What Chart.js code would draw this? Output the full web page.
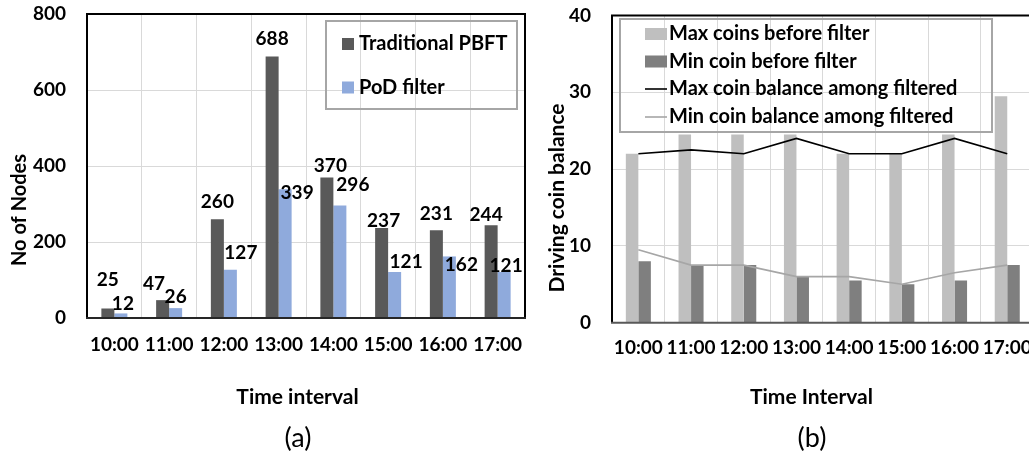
<!DOCTYPE html>
<html><head><meta charset="utf-8">
<script src="https://cdn.jsdelivr.net/npm/chart.js@4"></script>
<style>
html,body{margin:0;padding:0;background:#fff;width:1029px;height:458px;overflow:hidden;position:relative}
#ca{position:absolute;left:0;top:0}
#cb{position:absolute;left:530px;top:0}
</style></head><body>
<canvas id="ca" width="545" height="458"></canvas>
<canvas id="cb" width="520" height="458"></canvas>
<script>
// ---------- data ----------
const categories = ['10:00','11:00','12:00','13:00','14:00','15:00','16:00','17:00'];
const pbftNodes = [25, 47, 260, 688, 370, 237, 231, 244];
const podNodes  = [12, 26, 127, 339, 296, 121, 162, 121];
const nodeTicks = [0, 200, 400, 600, 800];

const maxCoinsBefore  = [22, 24.5, 24.5, 24.5, 22, 22, 24.5, 29.5];
const minCoinBefore   = [8, 7.5, 7.5, 6, 5.5, 5, 5.5, 7.5];
const maxCoinFiltered = [22, 22.5, 22, 24, 22, 22, 24, 22];
const minCoinFiltered = [9.5, 7.5, 7.5, 6, 6, 5, 6.5, 7.5];
const coinTicks = [0, 10, 20, 30, 40];

// ---------- styling ----------
const FONT = "Lato, 'Open Sans', sans-serif";
Chart.defaults.font.family = FONT;
Chart.defaults.color = '#000';
const GRID = '#d9d9d9';

const noPad = s => { s.paddingTop = 0; s.paddingBottom = 0; s.paddingLeft = 0; s.paddingRight = 0; };

// text drawn at fixed positions (axis titles, captions)
const fixedText = {
  id: 'fixedText',
  afterDraw(chart, args, opts) {
    const ctx = chart.ctx;
    (opts.items || []).forEach(it => {
      ctx.save();
      ctx.font = it.font;
      ctx.fillStyle = '#000';
      ctx.textAlign = 'center';
      ctx.textBaseline = 'middle';
      ctx.translate(it.x, it.y);
      if (it.rot) ctx.rotate(it.rot);
      ctx.fillText(it.text, 0, 0);
      ctx.restore();
    });
  }
};

// plot frame
const frame = {
  id: 'frame',
  afterDatasetsDraw(chart, args, opts) {
    const {left, right, top, bottom} = chart.chartArea;
    const ctx = chart.ctx;
    ctx.save();
    ctx.lineWidth = 2;
    (opts.sides || []).forEach(s => {
      ctx.strokeStyle = s.color;
      ctx.beginPath();
      if (s.side === 'top') { ctx.moveTo(left - 1, top); ctx.lineTo(right + 1, top); }
      if (s.side === 'bottom') { ctx.moveTo(left - 1, bottom); ctx.lineTo(right + 1, bottom); }
      if (s.side === 'left') { ctx.moveTo(left, top); ctx.lineTo(left, bottom); }
      if (s.side === 'right') { ctx.moveTo(right, top); ctx.lineTo(right, bottom); }
      ctx.stroke();
    });
    ctx.restore();
  }
};

// legend box drawn inside the plot
const boxLegend = {
  id: 'boxLegend',
  afterDraw(chart, args, opts) {
    const ctx = chart.ctx;
    const b = opts.box;
    ctx.save();
    ctx.strokeStyle = '#a6a6a6';
    ctx.lineWidth = 2;
    ctx.strokeRect(b.x, b.y, b.w, b.h);
    ctx.font = opts.font;
    ctx.textAlign = 'left';
    ctx.textBaseline = 'middle';
    chart.data.datasets.forEach((ds, i) => {
      const y = opts.rows[i];
      if (ds.type === 'line') {
        ctx.strokeStyle = ds.borderColor;
        ctx.lineWidth = ds.borderWidth;
        ctx.beginPath();
        ctx.moveTo(opts.markX, y);
        ctx.lineTo(opts.markX + opts.markW, y);
        ctx.stroke();
      } else {
        ctx.fillStyle = ds.backgroundColor;
        ctx.fillRect(opts.markX, y - opts.markH / 2, opts.markW, opts.markH);
      }
      ctx.fillStyle = '#000';
      ctx.fillText(ds.label, opts.textX, y);
    });
    ctx.restore();
  }
};

// value labels above bars
const barValueLabels = {
  id: 'barValueLabels',
  afterDatasetsDraw(chart, args, opts) {
    const ctx = chart.ctx;
    ctx.save();
    ctx.font = opts.font;
    ctx.fillStyle = '#000';
    ctx.textAlign = 'center';
    ctx.textBaseline = 'middle';
    chart.data.datasets.forEach((ds, di) => {
      const meta = chart.getDatasetMeta(di);
      const offs = opts.offsets[di];
      meta.data.forEach((bar, i) => {
        const o = offs[i];
        ctx.fillText(String(ds.data[i]), bar.x + o[0], bar.y + o[1]);
      });
    });
    ctx.restore();
  }
};

const tickFont = {family: FONT, size: 19, weight: 'bold'};

// ---------- chart (a) ----------
new Chart(document.getElementById('ca'), {
  type: 'bar',
  data: {
    labels: categories,
    datasets: [
      {label: 'Traditional PBFT', data: pbftNodes, backgroundColor: '#595959', categoryPercentage: 0.475, barPercentage: 1},
      {label: 'PoD filter', data: podNodes, backgroundColor: '#8faadc', categoryPercentage: 0.475, barPercentage: 1}
    ]
  },
  plugins: [fixedText, frame, boxLegend, barValueLabels],
  options: {
    responsive: false,
    animation: false,
    layout: {padding: {left: 0, top: 14, right: 20, bottom: 0}},
    scales: {
      x: {
        grid: {color: GRID, lineWidth: 1, drawTicks: false, offset: true},
        border: {display: false},
        ticks: {font: tickFont, padding: 15, maxRotation: 0, autoSkip: false},
        afterFit: s => { s.height = 140; noPad(s); }
      },
      y: {
        min: 0, max: 800,
        afterBuildTicks: s => { s.ticks = nodeTicks.map(v => ({value: v})); },
        grid: {color: GRID, lineWidth: 1, drawTicks: false},
        border: {display: false},
        ticks: {font: tickFont, padding: 21},
        afterFit: s => { s.width = 87; noPad(s); }
      }
    },
    plugins: {
      legend: {display: false},
      tooltip: {enabled: false},
      fixedText: {items: [
        {text: 'No of Nodes', x: 20, y: 210, rot: -Math.PI / 2, font: `bold 20px ${FONT}`},
        {text: 'Time interval', x: 297.5, y: 397.5, font: `bold 21px ${FONT}`},
        {text: '(a)', x: 298, y: 438, font: `27px ${FONT}`}
      ]},
      frame: {sides: [
        {side: 'top', color: '#000'}, {side: 'left', color: '#000'},
        {side: 'right', color: '#000'}, {side: 'bottom', color: '#262626'}
      ]},
      boxLegend: {box: {x: 326, y: 21, w: 191, h: 88}, rows: [44, 87.5], markX: 342, markW: 12, markH: 12, textX: 359, font: `bold 20px ${FONT}`},
      barValueLabels: {font: `bold 19px ${FONT}`, offsets: [
        [[0,-29],[-8.5,-16],[0,-17],[0,-18],[3.5,-12],[2,-7],[0,-16],[-5,-10]],
        [[2,-10],[0,-11],[10.5,-17],[12,3.5],[13,-21],[11.5,-10],[12,8],[2,-6]]
      ]}
    }
  }
});

// ---------- chart (b) ----------
new Chart(document.getElementById('cb'), {
  type: 'bar',
  data: {
    labels: categories,
    datasets: [
      {label: 'Max coins before filter', data: maxCoinsBefore, backgroundColor: '#bfbfbf', categoryPercentage: 0.475, barPercentage: 1, order: 2},
      {label: 'Min coin before filter', data: minCoinBefore, backgroundColor: '#7f7f7f', categoryPercentage: 0.475, barPercentage: 1, order: 2},
      {type: 'line', label: 'Max coin balance among filtered', data: maxCoinFiltered, borderColor: '#000000', borderWidth: 1.6, pointRadius: 0, tension: 0, fill: false, order: 1},
      {type: 'line', label: 'Min coin balance among filtered', data: minCoinFiltered, borderColor: '#a6a6a6', borderWidth: 1.6, pointRadius: 0, tension: 0, fill: false, order: 1}
    ]
  },
  plugins: [fixedText, frame, boxLegend],
  options: {
    responsive: false,
    animation: false,
    layout: {padding: {left: 0, top: 15.5, right: 16.4, bottom: 0}},
    scales: {
      x: {
        grid: {color: GRID, lineWidth: 1, drawTicks: false, offset: true},
        border: {display: false},
        ticks: {font: tickFont, padding: 14, maxRotation: 0, autoSkip: false},
        afterFit: s => { s.height = 135.3; noPad(s); }
      },
      y: {
        min: 0, max: 40,
        afterBuildTicks: s => { s.ticks = coinTicks.map(v => ({value: v})); },
        grid: {color: GRID, lineWidth: 1, drawTicks: false},
        border: {display: false},
        ticks: {font: tickFont, padding: 21},
        afterFit: s => { s.width = 82; noPad(s); }
      }
    },
    plugins: {
      legend: {display: false},
      tooltip: {enabled: false},
      fixedText: {items: [
        {text: 'Driving coin balance', x: 27, y: 198, rot: -Math.PI / 2, font: `bold 21px ${FONT}`},
        {text: 'Time Interval', x: 281.5, y: 397.5, font: `bold 21px ${FONT}`},
        {text: '(b)', x: 282, y: 438, font: `27px ${FONT}`}
      ]},
      frame: {sides: [
        {side: 'top', color: '#000'}, {side: 'left', color: '#000'},
        {side: 'right', color: '#000'}, {side: 'bottom', color: '#595959'}
      ]},
      boxLegend: {box: {x: 90, y: 19, w: 372, h: 113}, rows: [34, 61.5, 89, 117], markX: 115, markW: 22, markH: 12, textX: 139, font: `bold 20px ${FONT}`}
    }
  }
});
</script>
</body></html>
